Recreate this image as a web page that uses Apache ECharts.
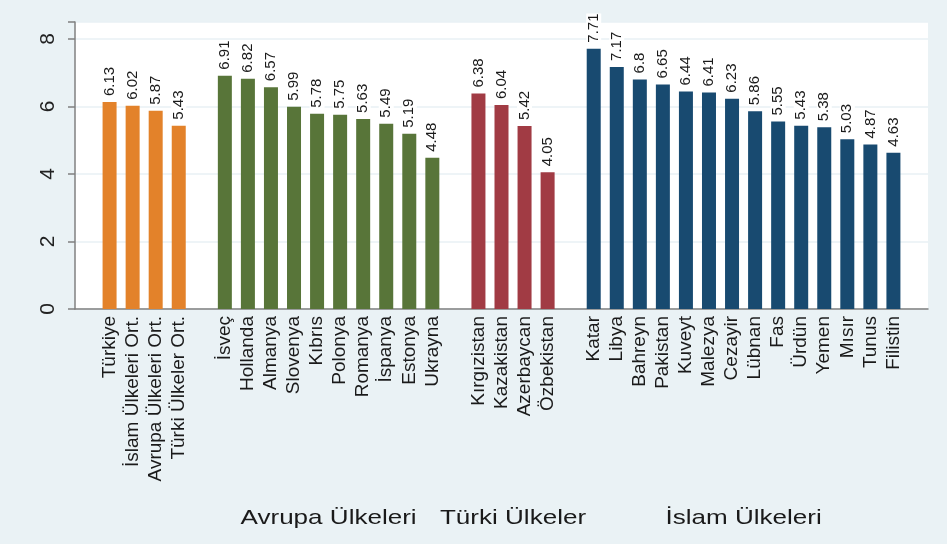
<!DOCTYPE html>
<html lang="tr">
<head>
    <meta charset="UTF-8">
    <title>Ülke Karşılaştırması</title>
    <script src="https://cdn.jsdelivr.net/npm/echarts@6/dist/echarts.min.js"></script>
    <style>
        html, body { margin: 0; padding: 0; background: #fff; }
        #chart1 { width: 947px; height: 544px; }
    </style>
</head>
<body>
<div id="chart1"></div>
<script type="text/javascript">
    // veriler
    var genelAd = ['Türkiye', 'İslam Ülkeleri Ort.', 'Avrupa Ülkeleri Ort.', 'Türki Ülkeler Ort.'];
    var genelDeger = [6.13, 6.02, 5.87, 5.43];
    var avrupaAd = ['İsveç', 'Hollanda', 'Almanya', 'Slovenya', 'Kıbrıs', 'Polonya', 'Romanya', 'İspanya', 'Estonya', 'Ukrayna'];
    var avrupaDeger = [6.91, 6.82, 6.57, 5.99, 5.78, 5.75, 5.63, 5.49, 5.19, 4.48];
    var turkiAd = ['Kırgızistan', 'Kazakistan', 'Azerbaycan', 'Özbekistan'];
    var turkiDeger = [6.38, 6.04, 5.42, 4.05];
    var islamAd = ['Katar', 'Libya', 'Bahreyn', 'Pakistan', 'Kuveyt', 'Malezya', 'Cezayir', 'Lübnan', 'Fas', 'Ürdün', 'Yemen', 'Mısır', 'Tunus', 'Filistin'];
    var islamDeger = [7.71, 7.17, 6.8, 6.65, 6.44, 6.41, 6.23, 5.86, 5.55, 5.43, 5.38, 5.03, 4.87, 4.63];
    var grupBaslik = ['', 'Avrupa Ülkeleri', 'Türki Ülkeler', 'İslam Ülkeleri'];
    var yTicks = [0, 2, 4, 6, 8];

    var renkler = ['#e3822a', '#587539', '#a13b44', '#184a70'];
    var gruplar = [
        [genelAd, genelDeger],
        [avrupaAd, avrupaDeger],
        [turkiAd, turkiDeger],
        [islamAd, islamDeger]
    ];

    // kategoriler (gruplar arasinda bos kategori)
    var kategoriler = [''];
    var seriVeri = ['-'];
    var aralik = [];
    gruplar.forEach(function (g, gi) {
        var bas = kategoriler.length;
        g[0].forEach(function (ad, i) {
            kategoriler.push(ad);
            seriVeri.push({value: g[1][i], itemStyle: {color: renkler[gi]}});
        });
        aralik.push([bas, kategoriler.length - 1]);
        kategoriler.push('');
        seriVeri.push('-');
    });

    var myChart1 = echarts.init(document.getElementById('chart1'));
    var yazi = "'Liberation Sans', Arial, sans-serif";

    myChart1.setOption({
        backgroundColor: '#eaf2f5',
        animation: false,
        grid: {
            left: 75, right: 19, top: 22, bottom: 235,
            show: true, backgroundColor: '#ffffff', borderWidth: 0
        },
        xAxis: {
            type: 'category',
            data: kategoriler,
            axisLine: {lineStyle: {color: '#808080', width: 1.5}},
            axisTick: {show: false},
            axisLabel: {
                rotate: 90, interval: 0, margin: 7,
                fontSize: 19, color: '#1a1a1a', fontFamily: yazi
            }
        },
        yAxis: {
            type: 'value',
            min: 0, max: 8.5, interval: 2,
            axisLine: {show: true, lineStyle: {color: '#808080', width: 1.5}},
            axisTick: {show: true, length: 7, lineStyle: {color: '#808080', width: 1.5}},
            axisLabel: {
                rotate: 90, margin: 16, fontSize: 21, color: '#222', fontFamily: yazi,
                formatter: function (v) {
                    return yTicks.indexOf(v) >= 0 ? String(v) : '';
                }
            },
            splitLine: {lineStyle: {color: '#e8f0f4', width: 1.5}}
        },
        series: [{
            type: 'bar',
            data: seriVeri,
            barWidth: 14,
            label: {
                show: true,
                position: 'top',
                rotate: 90,
                align: 'left',
                verticalAlign: 'middle',
                distance: 6,
                fontSize: 15,
                color: '#1a1a1a',
                fontFamily: yazi,
                backgroundColor: '#ffffff'
            }
        }]
    });

    // grup basliklari
    var basliklar = [];
    aralik.forEach(function (r, gi) {
        if (!grupBaslik[gi]) return;
        var x1 = myChart1.convertToPixel({xAxisIndex: 0}, r[0]);
        var x2 = myChart1.convertToPixel({xAxisIndex: 0}, r[1]);
        basliklar.push({
            type: 'text',
            x: (x1 + x2) / 2,
            y: 518,
            scaleX: 1.24,
            style: {
                text: grupBaslik[gi],
                fontSize: 21,
                fontFamily: yazi,
                fill: '#1a1a1a',
                align: 'center',
                verticalAlign: 'middle'
            }
        });
    });
    myChart1.setOption({graphic: basliklar});
</script>
</body>
</html>
